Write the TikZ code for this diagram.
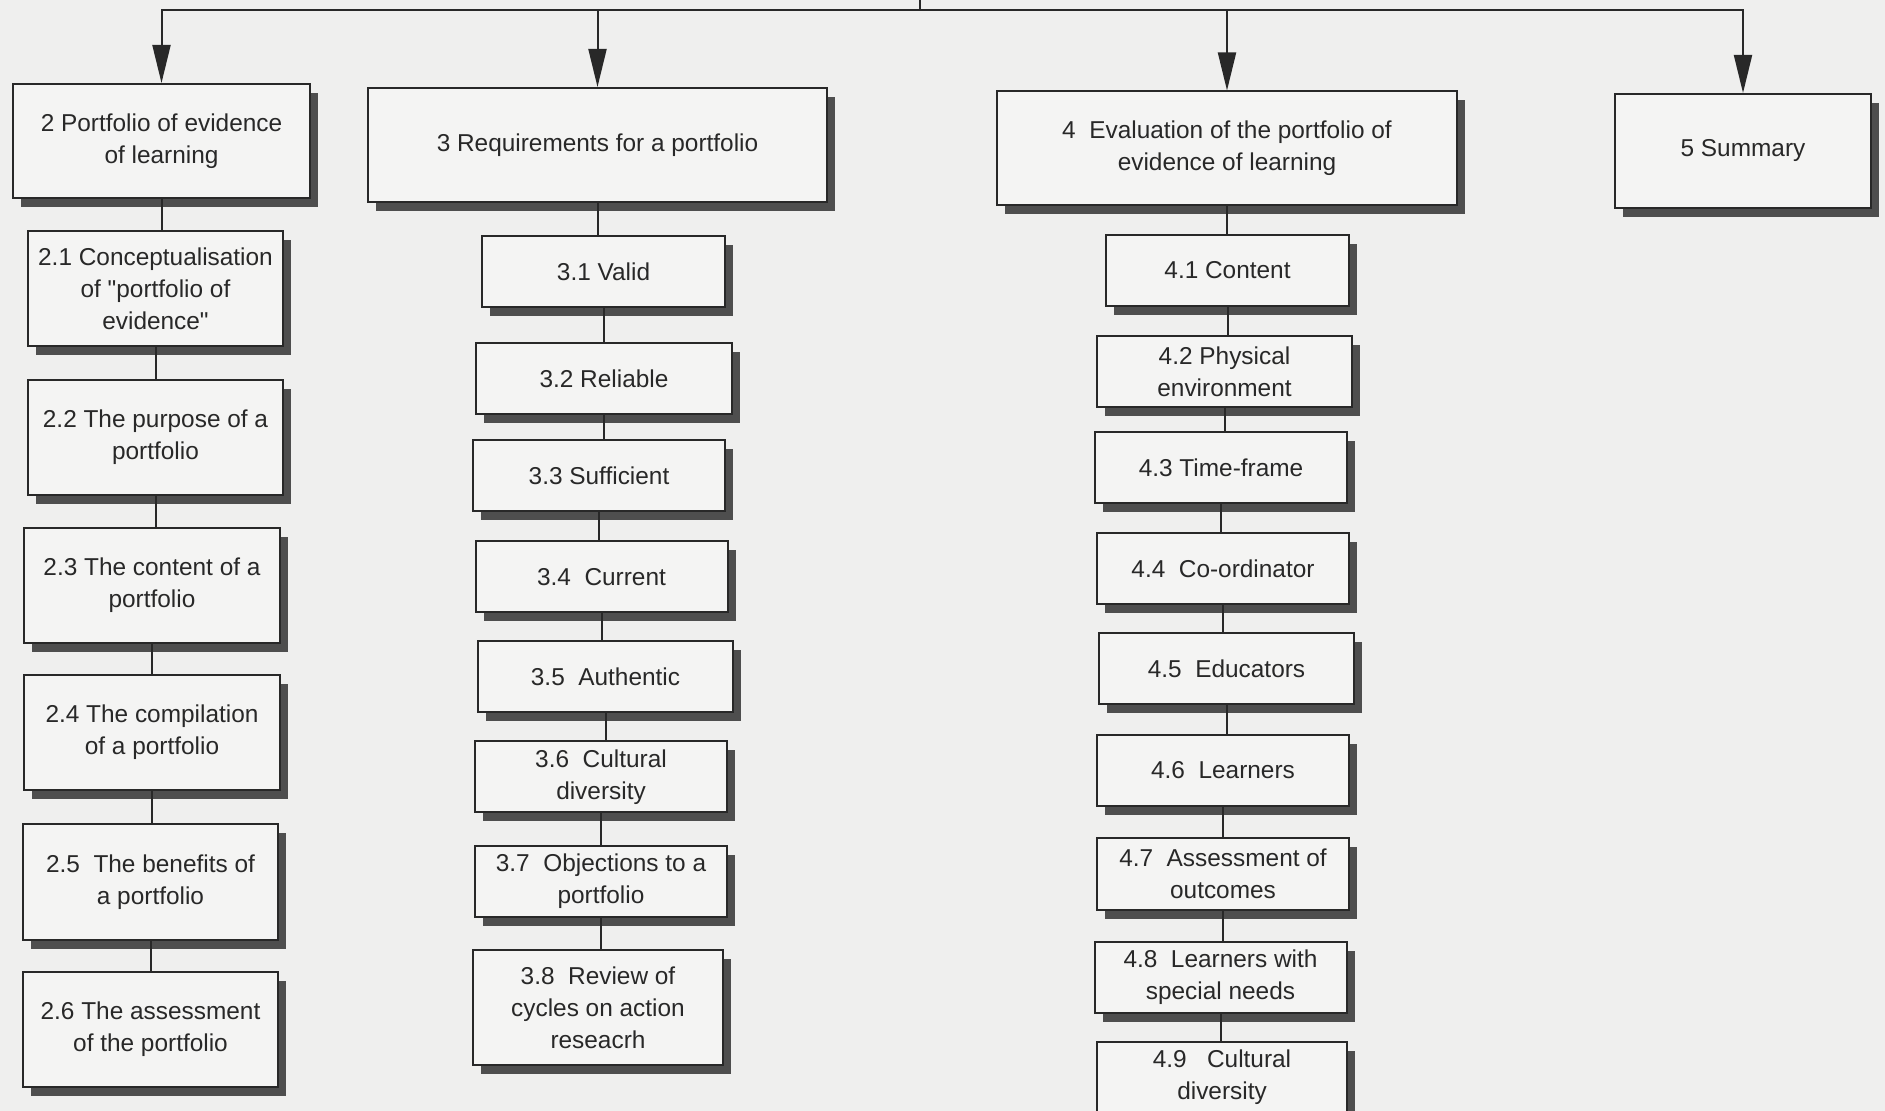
\documentclass[tikz,border=0pt]{standalone}
\usepackage{fontspec}
\setmainfont{Liberation Sans}
\usetikzlibrary{arrows.meta}
\usetikzlibrary{shadows}
\tikzset{>={Triangle[length=19pt,width=9pt]}}
\definecolor{paper}{RGB}{239,239,238}
\definecolor{boxfill}{RGB}{244,244,243}
\definecolor{ink}{RGB}{40,40,40}
\definecolor{shade}{RGB}{78,78,78}
\tikzstyle{anybox}=[draw=ink,line width=1pt,fill=boxfill,text=ink,align=center,inner sep=0pt,
  font=\fontsize{12.2}{16}\selectfont,
  drop shadow={shadow xshift=4pt,shadow yshift=-4.5pt,fill=shade,opacity=1}]
\tikzstyle{secbox}=[anybox,minimum height=57pt]
\tikzstyle{subbox}=[anybox,minimum width=126pt,minimum height=35.5pt]
\tikzstyle{tallbox}=[subbox,minimum width=127.5pt,minimum height=57.5pt]
\tikzstyle{conn}=[ink,line width=1pt]

\begin{document}
\begin{tikzpicture}[x=0.5pt,y=-0.5pt]
  \fill[paper] (0,0) rectangle (1885,1111);
  \useasboundingbox (0,0) rectangle (1885,1111);
  \coordinate (root) at (920,0);
  \coordinate (T) at (920,10); % junction

  % CHAPTERS
  \node[secbox,minimum width=148.5pt] (c2) at (161.5,141) {2 Portfolio of evidence\\of learning};
  \node[secbox,minimum width=229.5pt] (c3) at (597.5,145) {3 Requirements for a portfolio};
  \node[secbox,minimum width=230pt] (c4) at (1227,148.5) {4~ Evaluation of the portfolio of\\evidence of learning};
  \node[secbox,minimum width=128pt] (c5) at (1743,151) {5 Summary};

  \draw[conn] (root) -- (T);
  \draw[conn,->] (T) -| (c2.north);
  \draw[conn,->] (T) -| (c3.north);
  \draw[conn,->] (T) -| (c4.north);
  \draw[conn,->] (T) -| (c5.north);

  % SECTIONS 2
  \node[tallbox] (s21) at (155.5,289) {2.1 Conceptualisation\\of \textquotedbl portfolio of\\evidence\textquotedbl};
  \node[tallbox] (s22) at (155.5,437.5) {2.2 The purpose of a\\portfolio};
  \node[tallbox,minimum width=128pt] (s23) at (152,585.5) {2.3 The content of a\\portfolio};
  \node[tallbox,minimum width=128pt] (s24) at (152,732.5) {2.4 The compilation\\of a portfolio};
  \node[tallbox] (s25) at (150.5,882) {2.5~ The benefits of\\a portfolio};
  \node[tallbox] (s26) at (150.5,1029.5) {2.6 The assessment\\of the portfolio};

  % SECTIONS 3
  \node[subbox,minimum width=121.5pt] (s31) at (603.5,271.5) {3.1 Valid};
  \node[subbox,minimum width=128pt] (s32) at (604,378.5) {3.2 Reliable};
  \node[subbox] (s33) at (599,475.5) {3.3 Sufficient};
  \node[subbox] (s34) at (601.5,577) {3.4~ Current};
  \node[subbox,minimum width=127.5pt] (s35) at (605.5,677) {3.5~ Authentic};
  \node[subbox] (s36) at (601,777) {3.6~ Cultural\\diversity};
  \node[subbox] (s37) at (601,881.5) {3.7~ Objections to a\\portfolio};
  \node[tallbox,minimum width=125pt] (s38) at (598,1007.5) {3.8~ Review of\\cycles on action\\reseacrh};

  % SECTIONS 4
  \node[subbox,minimum width=121.5pt] (s41) at (1227.5,270.5) {4.1 Content};
  \node[subbox,minimum width=127.5pt] (s42) at (1224.5,371.5) {4.2 Physical\\environment};
  \node[subbox] (s43) at (1221,468) {4.3 Time-frame};
  \node[subbox] (s44) at (1223,568.5) {4.4~ Co-ordinator};
  \node[subbox,minimum width=127.5pt] (s45) at (1226.5,668.5) {4.5~ Educators};
  \node[subbox] (s46) at (1223,770.5) {4.6~ Learners};
  \node[subbox] (s47) at (1223,874) {4.7~ Assessment of\\outcomes};
  \node[subbox] (s48) at (1220.5,977.5) {4.8~ Learners with\\special needs};
  \node[subbox,minimum width=125pt] (s49) at (1222,1077) {4.9~~ Cultural\\diversity};

  % LINKS
  \draw[conn] (c2.south) -- (c2.south |- s21.north)
    (s21.south) -- (s21.south |- s22.north) (s22.south) -- (s22.south |- s23.north)
    (s23.south) -- (s23.south |- s24.north) (s24.south) -- (s24.south |- s25.north)
    (s25.south) -- (s25.south |- s26.north);
  \draw[conn] (c3.south) -- (c3.south |- s31.north)
    (s31.south) -- (s31.south |- s32.north) (s32.south) -- (s32.south |- s33.north)
    (s33.south) -- (s33.south |- s34.north) (s34.south) -- (s34.south |- s35.north)
    (s35.south) -- (s35.south |- s36.north) (s36.south) -- (s36.south |- s37.north)
    (s37.south) -- (s37.south |- s38.north);
  \draw[conn] (c4.south) -- (c4.south |- s41.north)
    (s41.south) -- (s41.south |- s42.north) (s42.south) -- (s42.south |- s43.north)
    (s43.south) -- (s43.south |- s44.north) (s44.south) -- (s44.south |- s45.north)
    (s45.south) -- (s45.south |- s46.north) (s46.south) -- (s46.south |- s47.north)
    (s47.south) -- (s47.south |- s48.north) (s48.south) -- (s48.south |- s49.north);
\end{tikzpicture}
\end{document}
